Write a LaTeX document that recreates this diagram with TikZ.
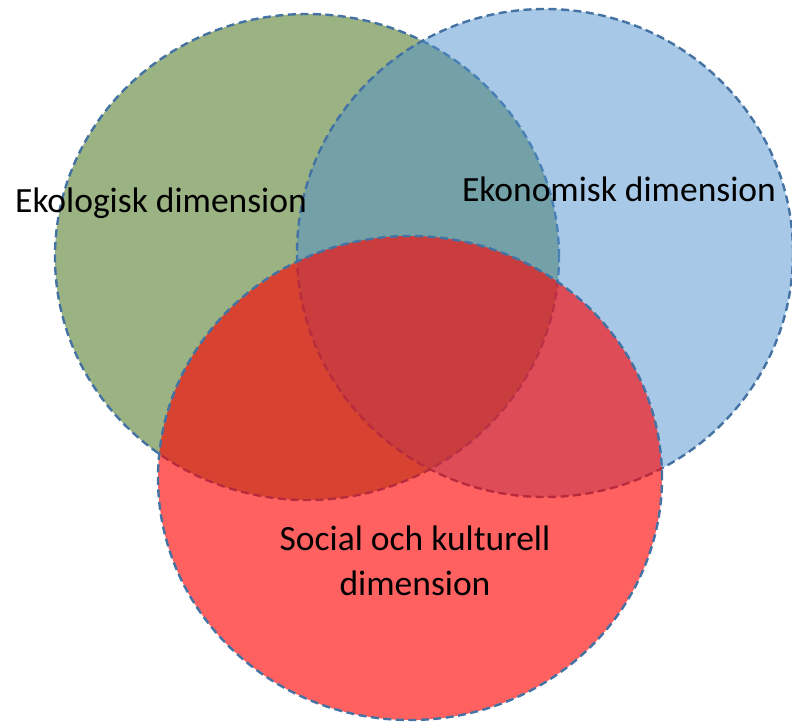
\documentclass[tikz,border=0pt]{standalone}
\usepackage{fontspec}
\setmainfont{Carlito}
\usetikzlibrary{shapes}

\definecolor{ekogreen}{RGB}{155,178,130}
\definecolor{ekoblue}{RGB}{79,145,205}
\definecolor{socred}{RGB}{255,0,0}
\definecolor{rimblue}{RGB}{68,114,162}

\begin{document}
\begin{tikzpicture}[x=1pt,y=-1pt]
	\tikzstyle{dimring} = [draw=rimblue, ellipse, line width=2.4pt, dash pattern=on 8pt off 4.5pt, inner sep=0]
	\tikzstyle{dimtext} = [inner sep=0, font=\fontsize{35.5}{45}\selectfont, align=center]

	\useasboundingbox (0,0) rectangle (792,721);

	% the three dimensions, red one on top
	\node[dimring, fill=ekogreen, minimum width=504pt, minimum height=486pt] (ekolog) at (307,257) {};
	\node[dimring, fill=ekoblue, fill opacity=0.5, minimum width=496pt, minimum height=488pt] (ekonom) at (545,253) {};
	\node[dimring, fill=socred, fill opacity=0.62, minimum width=504pt, minimum height=484pt] (social) at (410,478) {};

%	\node[draw] (mid) at (410,330) {};

	\node[dimtext] (ekologtext) at (161,203) {Ekologisk dimension};
	\node[dimtext] (ekonomtext) at (619,189) {Ekonomisk dimension};
	\node[dimtext] (socialtext) at (415,561) {Social och kulturell\\dimension};

\end{tikzpicture}
\end{document}
